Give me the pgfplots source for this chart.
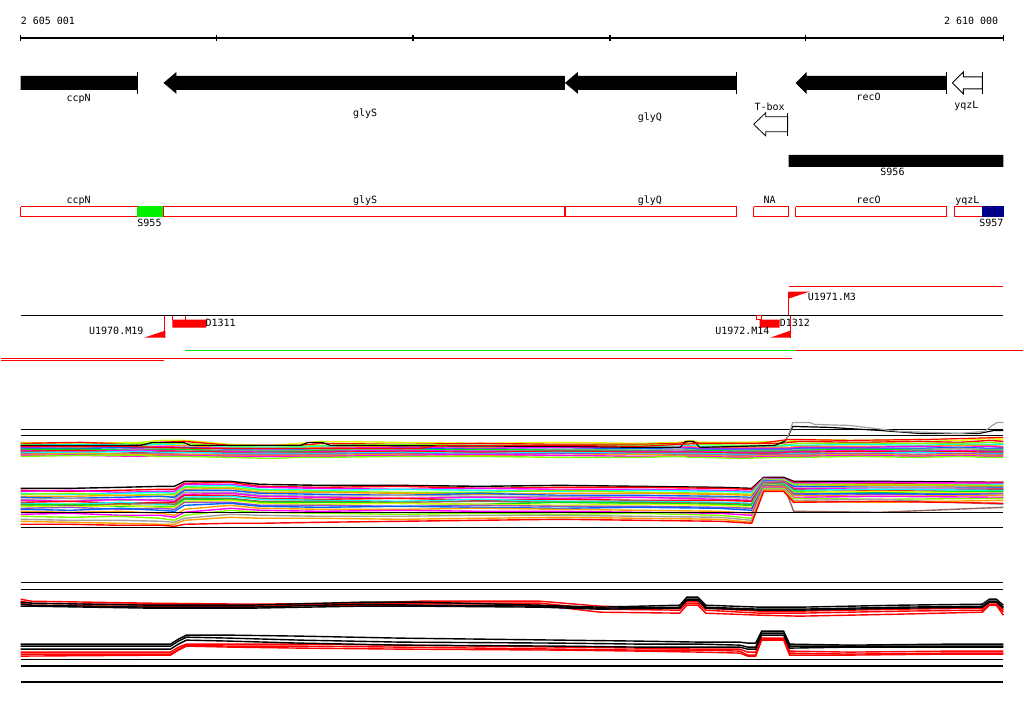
\documentclass[border=0pt]{standalone}
\usepackage{fontspec}
\setmainfont{DejaVu Sans Mono}
\usepackage{pgfplots}
\usepackage{pgfplotstable}
\pgfplotsset{compat=1.18}
\definecolor{cMag}{RGB}{255,0,255}
\definecolor{cRed}{RGB}{255,0,0}
\definecolor{cCyan}{RGB}{0,255,255}
\definecolor{cLime}{RGB}{128,255,0}
\definecolor{cGreen}{RGB}{0,230,0}
\definecolor{cOrange}{RGB}{255,160,0}
\definecolor{cBlue}{RGB}{0,100,255}
\definecolor{cGray}{RGB}{160,160,160}
\definecolor{cBrown}{RGB}{150,100,90}
\definecolor{cYellow}{RGB}{220,255,0}
\definecolor{cPurple}{RGB}{150,80,200}
\definecolor{cNavy}{RGB}{0,0,140}
\definecolor{cGreenBox}{RGB}{0,240,0}

% upper coloured band
\pgfplotstableread{
x c1 c2 c3 c4 c5 c6 c7 c8 c9 c10 c11 c12 c13 c14 c15 c16
20 443 444 445 446 447 448 449 450 450 451 452 453 454 455 456 457
80 444 443 446 445 448 447 449 451 450 452 451 453 455 454 456 456
140 443 445 444 446 447 449 448 450 451 451 453 452 454 455 457 456
160 441 443 444 445 447 447 449 449 450 451 452 453 454 455 456 457
184 441 442 444 446 446 448 448 450 450 452 452 453 455 455 456 457
230 445 446 447 448 449 449 450 451 452 452 453 454 455 456 457 458
270 446 446 448 448 449 450 451 451 452 453 454 454 455 456 457 459
300 444 446 447 448 449 450 450 451 452 453 453 454 455 456 457 458
320 442 444 446 447 448 449 450 450 451 452 453 454 455 456 457 458
400 443 445 445 447 447 448 449 450 451 451 452 453 454 455 456 457
480 444 444 446 446 448 449 450 451 450 452 453 454 455 456 455 457
560 443 445 446 447 447 448 450 450 451 452 452 453 454 456 456 458
640 444 445 446 447 448 449 449 451 451 452 453 454 455 455 457 458
680 443 444 445 447 448 448 450 450 452 452 453 454 455 456 457 457
690 441 442 444 446 447 448 449 450 451 452 453 454 455 456 457 458
700 443 444 445 447 448 449 450 451 451 452 453 454 455 456 457 458
740 443 444 446 447 448 449 450 451 452 453 454 455 456 457 458 459
780 442 444 446 447 448 449 450 451 452 453 454 455 455 456 457 458
789 442 443 445 446 448 449 450 451 452 452 453 454 455 456 457 458
800 440 442 444 446 447 448 449 450 451 452 453 454 455 456 457 458
860 441 443 444 445 447 448 449 450 450 451 452 454 454 455 456 457
920 440 442 444 446 447 447 449 450 451 452 453 453 455 456 457 458
960 441 443 444 445 446 448 448 449 451 451 452 454 454 455 456 457
990 439 441 443 445 446 447 449 450 451 452 453 454 455 456 457 458
1004 440 442 444 445 447 448 449 450 451 452 453 454 455 456 457 458
}\bandA

% lower coloured band
\pgfplotstableread{
x s1 s2 s3 s4 s5 s6 s7 s8 s9 s10 s11 s12 s13 s14 s15 s16 s17 s18 s19 s20 s21 s22
20 489 491 492 494 495 497 498 500 501 503 504 505 506 507 509 510 512 515 517 520 522 525
70 489 492 491 495 494 497 499 499 502 502 505 506 505 508 508 511 513 514 518 521 523 525
120 488 491 493 494 496 496 498 501 500 504 503 505 507 506 510 509 512 516 517 521 524 526
160 487 490 492 493 495 497 497 500 501 503 505 504 507 508 509 511 514 516 519 522 525 526
174 487 490 492 494 495 497 498 500 502 503 505 505 507 508 510 512 516 518 521 523 525 527
184 482 484 485 487 488 490 491 493 495 496 498 499 500 502 503 506 510 513 516 519 521 525
230 482 483 485 486 488 489 491 493 494 496 497 499 500 501 503 504 506 509 511 515 518 524
260 485 487 488 490 491 493 494 496 497 499 500 502 503 504 506 507 509 511 513 516 519 524
320 486 488 489 491 492 493 495 497 498 500 501 502 503 505 506 508 510 512 514 517 519 523
400 486 487 490 490 493 494 496 496 499 499 502 503 504 504 507 507 510 511 515 517 520 522
480 487 489 489 491 493 495 494 497 498 501 500 502 505 505 506 508 509 512 514 516 519 521
560 486 488 490 492 491 494 496 497 499 500 502 503 503 506 507 509 510 512 515 516 518 520
640 487 488 490 491 493 494 496 498 498 501 502 503 504 505 507 508 511 513 514 517 519 521
720 488 489 491 492 494 495 497 498 500 501 503 504 505 506 508 509 512 514 516 518 520 522
752 489 490 492 493 495 496 498 499 501 502 504 505 506 508 509 511 514 516 519 521 523 524
764 478 479 479 480 480 481 481 482 483 484 484 484 485 485 486 486 487 488 489 490 491 492
784 478 479 480 480 481 481 482 482 483 483 484 485 485 486 486 487 487 488 489 490 491 492
794 482 483 484 485 485 487 487 489 489 490 491 512 492 493 494 495 496 498 499 501 502 503
880 482 484 483 486 485 486 488 488 490 491 490 513 493 492 495 494 497 497 500 500 503 502
1004 483 483 484 485 486 487 488 489 490 490 491 508 492 494 494 496 496 498 499 505 501 504
}\bandB

% upper black/red band
\pgfplotstableread{
x k1 k2 k3 r1 r2 r3
20 603 605 607 600 602 604
30 604 606 607 602 604 606
90 605 607 608 603 605 607
150 606 608 609 604 605 607
250 606 608 609 605 606 607
360 603 605 607 604 605 606
420 603 606 607 602 604 606
540 606 607 608 602 604 606
600 608 609 610 607 610 613
680 606 608 609 609 611 614
687 598 600 601 602 604 606
698 598 600 601 602 604 606
706 606 608 609 609 611 614
760 608 610 611 612 614 616
800 608 610 611 612 614 617
900 606 608 609 610 612 615
983 605 607 608 609 611 613
990 600 602 603 603 605 606
997 600 602 603 603 605 606
1004 606 608 609 611 613 616
}\bandC

% lower black/red band
\pgfplotstableread{
x b1 b2 b3 q1 q2 q3
20 645 647 650 653 655 657
170 645 647 650 653 655 656
178 640 642 645 648 650 651
186 636 638 641 645 646 647
230 636 639 642 645 647 648
300 637 641 644 645 647 649
400 639 643 646 646 648 650
560 641 644 647 648 650 651
640 642 645 648 649 651 652
700 643 645 648 650 651 653
740 643 646 648 650 652 654
748 644 648 650 653 656 657
756 644 648 650 653 656 657
762 632 634 636 639 640 641
784 632 634 636 639 640 641
790 645 647 649 652 654 656
850 646 647 648 653 655 656
950 645 647 648 652 654 655
1004 645 647 648 652 654 655
}\bandD

\begin{document}
\begin{tikzpicture}[lbl/.style={font=\fontsize{10}{12}\selectfont, inner sep=0pt, text=black}]
\begin{axis}[
  width=1024pt, height=714pt, scale only axis,
  xmin=0, xmax=1024, ymin=0, ymax=714, y dir=reverse,
  hide axis, clip=false, no markers,
  every axis plot/.append style={line width=1pt, line join=miter},
]
% bounding box
\addplot[draw=none] coordinates {(0,0)(1024,714)};

% ---------- ruler ----------
\addplot[black] coordinates {(20,38)(1004,38)};
\addplot[black] coordinates {(20,35)(20,41)};
\addplot[black] coordinates {(216,35)(216,41)};
\addplot[black] coordinates {(413,35)(413,41)};
\addplot[black] coordinates {(610,35)(610,41)};
\addplot[black] coordinates {(806,35)(806,41)};
\addplot[black] coordinates {(1004,35)(1004,41)};
\node[lbl, anchor=base west] at (axis cs:20,25) {2 605 001};
\node[lbl, anchor=base east] at (axis cs:999,25) {2 610 000};

% ---------- genes ----------
\addplot[fill=black, draw=none] coordinates {(20,76)(137,76)(137,90)(20,90)(20,76)};
\addplot[black] coordinates {(137,72)(137,94)};
\addplot[fill=black, draw=none] coordinates {(163,83)(176,72)(176,76)(565,76)(565,90)(176,90)(176,94)(163,83)};
\addplot[fill=black, draw=none] coordinates {(565,83)(578,72)(578,76)(737,76)(737,90)(578,90)(578,94)(565,83)};
\addplot[black] coordinates {(737,72)(737,94)};
\addplot[fill=black, draw=none] coordinates {(796,83)(807,72)(807,76)(947,76)(947,90)(807,90)(807,94)(796,83)};
\addplot[black] coordinates {(947,72)(947,94)};
\addplot[fill=white, draw=black, line width=0.8pt] coordinates {(953,83)(964,72)(964,77)(983,77)(983,89)(964,89)(964,94)(953,83)};
\addplot[black] coordinates {(983,72)(983,94)};
\addplot[fill=white, draw=black, line width=0.8pt] coordinates {(754,124.5)(766,113)(766,117)(788,117)(788,132)(766,132)(766,136)(754,124.5)};
\addplot[black] coordinates {(788,113)(788,136)};
\node[lbl, anchor=base] at (axis cs:78,102) {ccpN};
\node[lbl, anchor=base] at (axis cs:365,117) {glyS};
\node[lbl, anchor=base] at (axis cs:650,121) {glyQ};
\node[lbl, anchor=base] at (axis cs:770,111) {T-box};
\node[lbl, anchor=base] at (axis cs:869,101) {recO};
\node[lbl, anchor=base] at (axis cs:967,109) {yqzL};

% S956
\addplot[fill=black, draw=none] coordinates {(789,155)(1004,155)(1004,167)(789,167)(789,155)};
\node[lbl, anchor=base] at (axis cs:893,176) {S956};

% ---------- red boxes ----------
\addplot[fill=white, draw=cRed] coordinates {(20,207)(137,207)(137,217)(20,217)(20,207)};
\addplot[fill=cGreenBox, draw=cGreenBox] coordinates {(137,207)(163,207)(163,217)(137,217)(137,207)};
\addplot[fill=white, draw=cRed] coordinates {(163,207)(565,207)(565,217)(163,217)(163,207)};
\addplot[fill=white, draw=cRed] coordinates {(565,207)(737,207)(737,217)(565,217)(565,207)};
\addplot[fill=white, draw=cRed] coordinates {(754,207)(789,207)(789,217)(754,217)(754,207)};
\addplot[fill=white, draw=cRed] coordinates {(796,207)(947,207)(947,217)(796,217)(796,207)};
\addplot[fill=white, draw=cRed] coordinates {(955,207)(983,207)(983,217)(955,217)(955,207)};
\addplot[fill=cNavy, draw=cNavy] coordinates {(983,207)(1004,207)(1004,217)(983,217)(983,207)};
\node[lbl, anchor=base] at (axis cs:78,204) {ccpN};
\node[lbl, anchor=base] at (axis cs:365,204) {glyS};
\node[lbl, anchor=base] at (axis cs:650,204) {glyQ};
\node[lbl, anchor=base] at (axis cs:770,204) {NA};
\node[lbl, anchor=base] at (axis cs:869,204) {recO};
\node[lbl, anchor=base] at (axis cs:968,204) {yqzL};
\node[lbl, anchor=base] at (axis cs:149,227) {S955};
\node[lbl, anchor=base] at (axis cs:992,227) {S957};

% ---------- features ----------
\addplot[cRed] coordinates {(789,287)(1004,287)};
\addplot[cRed] coordinates {(789,292)(789,316)};
\addplot[fill=cRed, draw=none] coordinates {(789,292)(810,292)(789,299)(789,292)};
\node[lbl, anchor=base west] at (axis cs:808,301) {U1971.M3};
\addplot[black] coordinates {(20,316)(1004,316)};
% U1970.M19
\addplot[cRed] coordinates {(164,316)(164,338)};
\addplot[fill=cRed, draw=none] coordinates {(144,338)(165,338)(165,331)(144,338)};
\node[lbl, anchor=base east] at (axis cs:143,335) {U1970.M19};
% D1311
\addplot[cRed] coordinates {(172,316)(172,320)};
\addplot[cRed] coordinates {(185,316)(185,320)};
\addplot[fill=cRed, draw=none] coordinates {(172,320)(206,320)(206,328)(172,328)(172,320)};
\node[lbl, anchor=base west] at (axis cs:205,327) {D1311};
% D1312 / U1972.M14
\addplot[fill=white, draw=cRed] coordinates {(757,316)(762,316)(762,320)(757,320)(757,316)};
\addplot[fill=cRed, draw=none] coordinates {(760,320)(780,320)(780,328)(760,328)(760,320)};
\node[lbl, anchor=base west] at (axis cs:780,327) {D1312};
\addplot[cRed] coordinates {(791,316)(791,338)};
\addplot[fill=cRed, draw=none] coordinates {(771,338)(791,338)(791,331)(771,338)};
\node[lbl, anchor=base east] at (axis cs:770,335) {U1972.M14};

% separator lines
\addplot[cGreen] coordinates {(185,351)(796,351)};
\addplot[cRed] coordinates {(796,351)(1024,351)};
\addplot[cRed] coordinates {(0,359)(792,359)};
\addplot[cRed] coordinates {(0,361)(164,361)};

% ---------- coloured tracks ----------
\addplot[black] coordinates {(20,430)(1004,430)};
\addplot[black] coordinates {(20,436)(1004,436)};
\pgfplotsset{every axis plot/.append style={line width=2pt}}
\addplot[cYellow] table[y=c1]{\bandA};
\addplot[cRed] table[y=c2]{\bandA};
\addplot[cLime] table[y=c3]{\bandA};
\addplot[cCyan] table[y=c4]{\bandA};
\addplot[cOrange] table[y=c5]{\bandA};
\addplot[cMag] table[y=c6]{\bandA};
\addplot[cBlue] table[y=c7]{\bandA};
\addplot[cGray] table[y=c8]{\bandA};
\addplot[cGreen] table[y=c9]{\bandA};
\addplot[cMag] table[y=c10]{\bandA};
\addplot[cRed] table[y=c11]{\bandA};
\addplot[cCyan] table[y=c12]{\bandA};
\addplot[cPurple] table[y=c13]{\bandA};
\addplot[cOrange] table[y=c14]{\bandA};
\addplot[cMag] table[y=c15]{\bandA};
\addplot[cLime] table[y=c16]{\bandA};
\addplot[black, line width=1.2pt] coordinates {(20,446)(140,446)(152,443)(183,443)(190,446)(300,446)(308,443)(322,443)(330,446)(560,447)(640,448)(680,448)(686,442)(694,442)(700,448)(740,447)(775,446)(785,442)(789,436)(793,427)(830,428)(880,431)(920,434)(980,434)(995,431)(1004,431)};
\addplot[cGray, line width=1.2pt] coordinates {(785,445)(791,430)(793,423)(810,423)(815,425)(850,426)(900,432)(960,434)(985,432)(993,426)(998,423)(1004,423)};
\addplot[cRed, line width=1.2pt] coordinates {(20,447)(120,447)(200,449)(420,449)(440,446)(560,446)(640,447)(700,444)(760,444)(789,440)(850,441)(930,440)(1004,438)};

\addplot[black] table[y=s1]{\bandB};
\addplot[cRed] table[y=s2]{\bandB};
\addplot[cMag] table[y=s3]{\bandB};
\addplot[cCyan] table[y=s4]{\bandB};
\addplot[cLime] table[y=s5]{\bandB};
\addplot[cOrange] table[y=s6]{\bandB};
\addplot[cBlue] table[y=s7]{\bandB};
\addplot[cGray] table[y=s8]{\bandB};
\addplot[cMag] table[y=s9]{\bandB};
\addplot[cRed] table[y=s10]{\bandB};
\addplot[cCyan] table[y=s11]{\bandB};
\addplot[cBrown] table[y=s12]{\bandB};
\addplot[cGreen] table[y=s13]{\bandB};
\addplot[cYellow] table[y=s14]{\bandB};
\addplot[cPurple] table[y=s15]{\bandB};
\addplot[cBlue] table[y=s16]{\bandB};
\addplot[cOrange] table[y=s17]{\bandB};
\addplot[cMag] table[y=s18]{\bandB};
\addplot[cLime] table[y=s19]{\bandB};
\addplot[cGray] table[y=s20]{\bandB};
\addplot[cOrange] table[y=s21]{\bandB};
\addplot[cRed] table[y=s22]{\bandB};
\addplot[black, line width=1.2pt] coordinates {(20,513)(1004,513)};
\addplot[black, line width=1.2pt] coordinates {(20,528)(1004,528)};

% ---------- black / red tracks ----------
\addplot[black, line width=1.2pt] coordinates {(20,583)(1004,583)};
\addplot[black, line width=1.2pt] coordinates {(20,590)(1004,590)};
\pgfplotsset{every axis plot/.append style={line width=1.4pt}}
\addplot[cRed] table[y=r1]{\bandC};
\addplot[cRed] table[y=r2]{\bandC};
\addplot[cRed] table[y=r3]{\bandC};
\addplot[black] table[y=k1]{\bandC};
\addplot[black] table[y=k2]{\bandC};
\addplot[black] table[y=k3]{\bandC};
\addplot[cRed] table[y=q1]{\bandD};
\addplot[cRed] table[y=q2]{\bandD};
\addplot[cRed] table[y=q3]{\bandD};
\addplot[black] table[y=b1]{\bandD};
\addplot[black] table[y=b2]{\bandD};
\addplot[black] table[y=b3]{\bandD};
\addplot[black, line width=1.2pt] coordinates {(20,660)(1004,660)};
\addplot[black, line width=1.2pt] coordinates {(20,667)(1004,667)};
\addplot[black, line width=1.2pt] coordinates {(20,683)(1004,683)};
\end{axis}
\end{tikzpicture}
\end{document}
